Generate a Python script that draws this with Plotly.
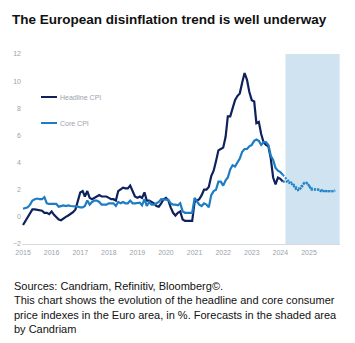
import pandas as pd
import plotly.graph_objects as go

# ---- data (monthly, y/y %) ----
start_month = "2015-01-01"
headline_actual = [
    -0.6, -0.3, 0.0, 0.3, 0.55, 0.55, 0.5, 0.45, 0.45, 0.3, 0.3, 0.2,      # 2015
    0.4, 0.15, 0.0, -0.2, -0.25, -0.1, 0.0, 0.1, 0.2, 0.35, 0.55, 1.1,     # 2016
    1.8, 1.9, 1.5, 1.9, 1.4, 1.3, 1.4, 1.5, 1.6, 1.5, 1.5, 1.5,            # 2017
    1.4, 1.3, 1.3, 1.2, 1.9, 2.0, 2.15, 2.1, 2.1, 2.3, 1.9, 1.5,           # 2018
    1.4, 1.5, 1.4, 1.8, 1.2, 1.2, 1.1, 1.0, 0.8, 0.75, 1.0, 1.3,           # 2019
    1.4, 1.2, 0.7, 0.3, 0.1, 0.3, 0.4, -0.2, -0.3, -0.3, -0.3, -0.3,       # 2020
    1.1, 1.2, 1.3, 1.6, 2.0, 2.0, 2.2, 3.0, 3.4, 4.1, 4.9, 5.0,            # 2021
    5.1, 5.9, 7.4, 7.4, 8.1, 8.6, 8.9, 9.1, 9.9, 10.6, 10.1, 9.2,          # 2022
    8.6, 8.5, 6.9, 7.0, 6.1, 5.5, 5.3, 5.2, 4.3, 2.9, 2.4, 2.9,            # 2023
    2.8, 2.6,                                                              # 2024
]
core_actual = [
    0.6, 0.65, 0.7, 0.9, 1.2, 1.3, 1.35, 1.3, 1.3, 1.45, 1.0, 0.95,
    0.95, 1.0, 0.95, 0.75, 0.8, 0.85, 0.8, 0.85, 0.8, 0.8, 0.75, 0.75,
    0.7, 0.7, 0.8, 1.2, 0.9, 1.1, 1.2, 1.2, 1.1, 0.9, 0.9, 0.9,
    1.0, 1.0, 1.0, 0.8, 1.1, 1.0, 1.1, 1.0, 1.0, 1.2, 1.0, 1.0,
    1.0, 1.05, 0.85, 1.3, 0.8, 1.1, 0.9, 0.9, 1.0, 1.1, 1.3, 1.3,
    1.3, 1.25, 1.0, 0.9, 0.9, 0.85, 1.0, 0.4, 0.3, 0.3, 0.3, 0.3,
    1.4, 1.1, 0.9, 0.8, 1.0, 0.9, 0.7, 1.6, 1.9, 2.0, 2.6, 2.6,
    2.3, 2.7, 2.9, 3.5, 3.8, 3.7, 4.0, 4.3, 4.8, 5.0, 5.0, 5.2,
    5.3, 5.6, 5.7, 5.6, 5.3, 5.5, 5.5, 5.3, 4.5, 4.2, 3.6, 3.4,
    3.3, 3.1,
]
headline_forecast = [2.6, 2.6, 2.5, 2.4, 2.2, 1.95, 2.0, 2.2, 2.5, 2.5, 2.3,
                     2.0, 2.0, 2.0, 2.0, 1.9, 1.9, 1.85, 1.9, 1.9, 1.9, 1.95]
core_forecast = [2.9, 2.7, 2.6, 2.5, 2.3, 2.1, 2.1, 2.3, 2.5, 2.5, 2.3,
                 2.1, 2.1, 2.0, 2.0, 2.0, 1.95, 1.9, 1.9, 1.9, 1.9, 1.9]
year_ticks = ["2015", "2016", "2017", "2018", "2019", "2020",
              "2021", "2022", "2023", "2024", "2025"]
y_ticks = [-2, 0, 2, 4, 6, 8, 10, 12]
series_names = ["Headline CPI", "Core CPI"]
forecast_start = "2024-03-07"
forecast_end = "2026-01-28"

# ---- build ----
n_act = len(headline_actual)
n_all = n_act + len(headline_forecast)
dates = pd.date_range(start_month, periods=n_all, freq="MS")
d_act = dates[:n_act]
d_fc = dates[n_act - 1:]

NAVY = "#0e215c"
BLUE = "#1d7cc3"
SHADE = "#cfe3f1"
GREY = "#9aa3ad"

fig = go.Figure()
fig.add_trace(go.Scatter(x=d_act, y=headline_actual, mode="lines",
                         line=dict(color=NAVY, width=2.2), name=series_names[0]))
fig.add_trace(go.Scatter(x=d_act, y=core_actual, mode="lines",
                         line=dict(color=BLUE, width=2.2), name=series_names[1]))
fig.add_trace(go.Scatter(x=d_fc, y=[headline_actual[-1]] + headline_forecast, mode="lines",
                         line=dict(color=BLUE, width=2.2, dash="2px,1px"), showlegend=False))
fig.add_trace(go.Scatter(x=d_fc, y=[core_actual[-1]] + core_forecast, mode="lines",
                         line=dict(color="#2a8ad0", width=2.2, dash="2px,1.5px"), showlegend=False))

fig.add_shape(type="rect", xref="x", yref="y", x0=forecast_start, x1=forecast_end,
              y0=y_ticks[0], y1=y_ticks[-1], fillcolor=SHADE, line=dict(width=0), layer="below")

# custom legend
W, H = 355, 343
L, R, T, B = 22, 15, 54, 99
pw, ph = W - L - R, H - T - B
def px(x):
    return (x - L) / pw
def py(y):
    return (H - B - y) / ph
for name, col, yy in [(series_names[0], NAVY, 97), (series_names[1], BLUE, 123)]:
    fig.add_shape(type="line", xref="paper", yref="paper", x0=px(41), x1=px(57),
                  y0=py(yy), y1=py(yy), line=dict(color=col, width=2))
    fig.add_annotation(xref="paper", yref="paper", x=px(57.5), y=py(yy), text=name,
                       showarrow=False, xanchor="left", yanchor="middle",
                       font=dict(family="Liberation Sans, Arial", size=7, color=GREY))

fig.add_annotation(xref="paper", yref="paper", x=px(12), y=py(278), xanchor="left", yanchor="top",
                   align="left", showarrow=False,
                   text="Sources: Candriam, Refinitiv, Bloomberg©.<br>"
                        "This chart shows the evolution of the headline and core consumer<br>"
                        "price indexes in the Euro area, in %. Forecasts in the shaded area<br>"
                        "by Candriam",
                   font=dict(family="Liberation Sans, Arial", size=11, color="#111111"))

fig.update_layout(
    width=W, height=H, margin=dict(l=L, r=R, t=T, b=B),
    paper_bgcolor="white", plot_bgcolor="white", showlegend=False,
    title=dict(text="<b>The European disinflation trend is well underway</b>",
               x=12 / W, y=1 - 19 / H, xanchor="left", yanchor="middle",
               font=dict(family="Liberation Sans, Arial", size=13.5, color="#111111")),
    xaxis=dict(type="date", range=["2014-12-19", "2026-02-01"],
               tickvals=[f"{y}-01-01" for y in year_ticks], ticktext=year_ticks,
               showgrid=False, zeroline=False, showline=True, linecolor="#d9d9d9", linewidth=1,
               ticks="outside", ticklen=2, tickcolor="rgba(0,0,0,0)",
               tickfont=dict(family="Liberation Sans, Arial", size=7, color=GREY)),
    yaxis=dict(range=[y_ticks[0], y_ticks[-1]], tickvals=y_ticks, showgrid=False,
               zeroline=False, showline=False, ticks="",
               tickfont=dict(family="Liberation Sans, Arial", size=7, color=GREY)),
)

fig.write_html("out.html")
